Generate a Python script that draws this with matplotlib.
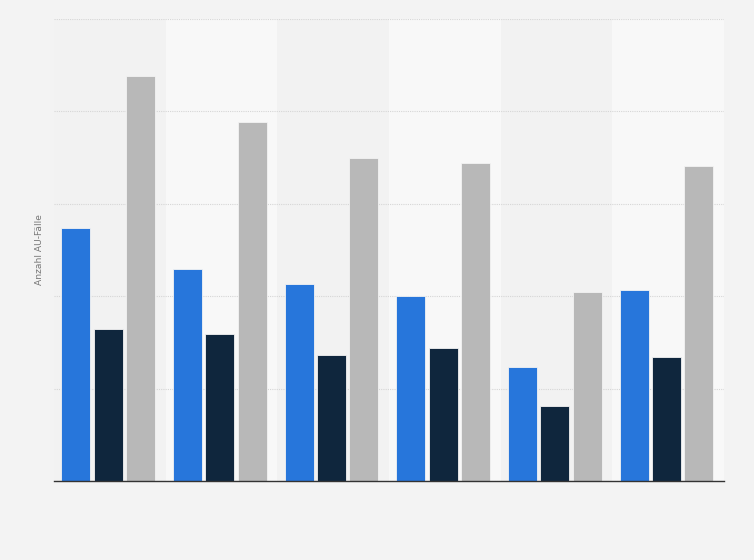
import numpy as np
import matplotlib.pyplot as plt

# values (grid step = 20)
groups = ["1", "2", "3", "4", "5", "6"]
blue = [54.8, 45.9, 42.6, 40.0, 24.7, 41.3]
navy = [32.9, 31.8, 27.3, 28.8, 16.2, 26.8]
grey = [87.7, 77.7, 69.9, 68.8, 40.9, 68.2]

fig = plt.figure(figsize=(7.54, 5.6), dpi=100, facecolor="#f3f3f3")
ax = fig.add_axes([0.0716, 0.141, 0.8886, 0.825])
ax.set_facecolor("#f3f3f3")

x = np.arange(len(groups)) - 0.015
w = 0.26
off = 0.29

# alternating column bands
for i in range(len(groups)):
    col = "#f2f2f2" if i % 2 == 0 else "#f8f8f8"
    ax.axvspan(i - 0.5, i + 0.5, color=col, zorder=0, lw=0)

ax.bar(x - off, blue, w, color="#2776db", edgecolor="#f3f3f3", linewidth=0.6, zorder=3)
ax.bar(x, navy, w, color="#0f263d", edgecolor="#f3f3f3", linewidth=0.6, zorder=3)
ax.bar(x + off, grey, w, color="#b8b8b8", edgecolor="#f3f3f3", linewidth=0.6, zorder=3)

ax.set_xlim(-0.5, len(groups) - 0.5)
ax.set_ylim(0, 100)
ax.set_yticks([0, 20, 40, 60, 80, 100])
ax.yaxis.grid(True, color="#d6d6d6", linestyle=(0, (1, 1)), linewidth=0.8, zorder=1)
ax.tick_params(left=False, bottom=False, labelleft=False, labelbottom=False)
for s in ["top", "right", "left"]:
    ax.spines[s].set_visible(False)
ax.spines["bottom"].set_color("#333333")
ax.spines["bottom"].set_linewidth(1.0)
ax.spines["bottom"].set_zorder(4)

fig.text(0.053, 0.555, "Anzahl AU-Fälle", rotation=90, ha="center", va="center",
         fontsize=6.6, color="#777777")

fig.savefig("out.png", dpi=100, facecolor=fig.get_facecolor())
